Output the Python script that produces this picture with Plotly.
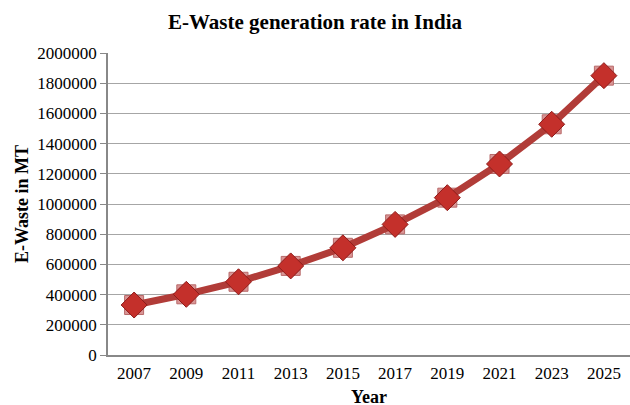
import plotly.graph_objects as go

years = [2007, 2009, 2011, 2013, 2015, 2017, 2019, 2021, 2023, 2025]
ewaste = [331000, 402000, 485000, 590000, 710000, 865000, 1042000, 1265000, 1528000, 1850000]
y_ticks = list(range(0, 2000001, 200000))

FONT = "Liberation Serif, Times New Roman, serif"
TICKFONT = dict(family=FONT, size=17, color="black")

fig = go.Figure()
# shadow squares behind the diamonds
fig.add_trace(go.Scatter(
    x=years, y=ewaste, mode="markers",
    marker=dict(symbol="square", size=19, color="#d99595",
                line=dict(color="#b86a6a", width=1)),
    hoverinfo="skip", showlegend=False))
fig.add_trace(go.Scatter(
    x=years, y=ewaste, mode="lines",
    line=dict(color="#b13c38", width=7),
    showlegend=False))
fig.add_trace(go.Scatter(
    x=years, y=ewaste, mode="markers",
    marker=dict(symbol="diamond", size=20, color="#c4302b",
                line=dict(color="#8e1c1a", width=1)),
    showlegend=False))

fig.update_layout(
    width=630, height=405,
    margin=dict(l=108, r=0, t=53, b=50),
    paper_bgcolor="white", plot_bgcolor="white",
    font=dict(family=FONT, size=17, color="black"),
    title=dict(text="<b>E-Waste generation rate in India</b>",
               x=0.5, xanchor="center", y=0.946, yanchor="middle",
               font=dict(family=FONT, size=21, color="black")),
    xaxis=dict(
        range=[2006, 2026], tickmode="array", tickvals=years,
        ticktext=[str(y) for y in years], tickfont=TICKFONT,
        showgrid=False, zeroline=False, automargin=False,
        showline=True, linecolor="#888888", linewidth=1.5,
        ticks="", ticklabelstandoff=2,
    ),
    yaxis=dict(
        range=[0, 2000000], tickmode="array", tickvals=y_ticks,
        ticktext=[str(v) for v in y_ticks], tickfont=TICKFONT,
        showgrid=True, gridcolor="#a6a6a6", gridwidth=1.2,
        zeroline=False, automargin=False,
        showline=True, linecolor="#888888", linewidth=1.5,
        ticks="outside", ticklen=6, tickcolor="#888888",
        title=dict(text="<b>E-Waste in MT</b>", standoff=4,
                   font=dict(family=FONT, size=18, color="black")),
    ),
    annotations=[dict(
        text="<b>Year</b>", xref="paper", yref="paper",
        x=0.5, y=-0.138, xanchor="center", yanchor="middle",
        showarrow=False, font=dict(family=FONT, size=18, color="black"),
    )],
)

fig.write_html("out.html")
